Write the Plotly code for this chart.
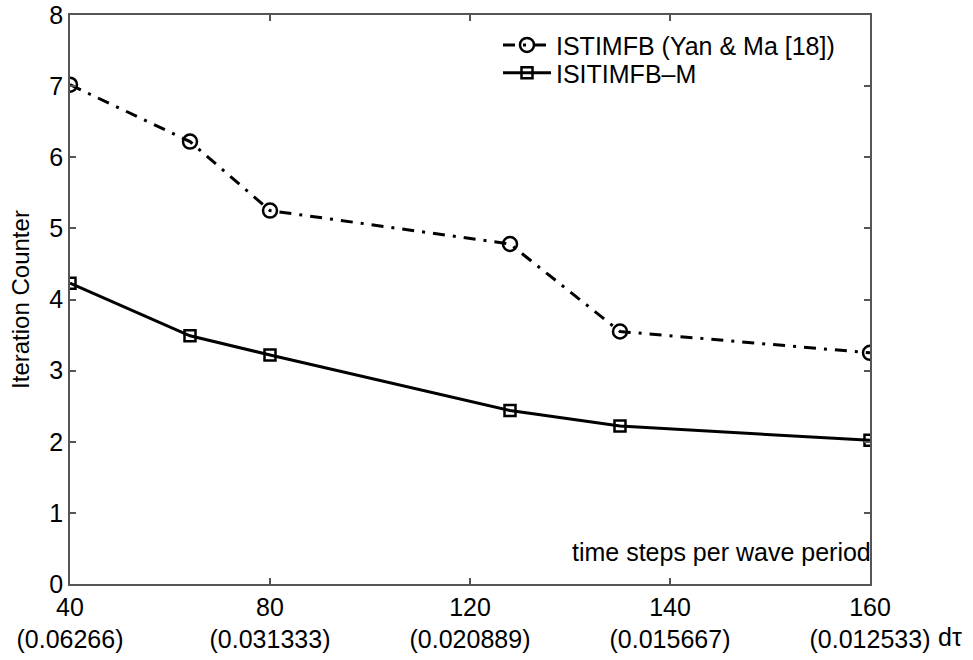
import plotly.graph_objects as go

# x positions are in "time steps per wave period" along a linear axis
steps_pos = [40, 64, 80, 128, 150, 200]
istimfb = [7.02, 6.22, 5.25, 4.78, 3.55, 3.25]
isitimfb_m = [4.23, 3.49, 3.22, 2.44, 2.22, 2.02]

tick_vals = [40, 80, 120, 160, 200]
tick_steps = ["40", "80", "120", "140", "160"]
tick_dt = ["(0.06266)", "(0.031333)", "(0.020889)", "(0.015667)", "(0.012533)"]
tick_text = [f"{a}<br>{b}" for a, b in zip(tick_steps, tick_dt)]

FONT = "Liberation Sans, Arial, Helvetica, sans-serif"
FS = 25

fig = go.Figure()
fig.add_trace(go.Scatter(
    x=steps_pos, y=istimfb, mode="lines+markers",
    name="ISTIMFB (Yan &amp; Ma [18])",
    line=dict(color="black", width=3, dash="12px,8px,3px,8px"),
    marker=dict(symbol="circle-open", size=14, color="black", line=dict(width=2.5, color="black")),
    legend="legend",
))
fig.add_trace(go.Scatter(
    x=steps_pos, y=isitimfb_m, mode="lines+markers",
    name="ISITIMFB\u2013M",
    line=dict(color="black", width=3),
    marker=dict(symbol="square-open", size=11, color="black", line=dict(width=2.5, color="black")),
    legend="legend2",
))

axis_common = dict(
    showline=True, linecolor="#555", linewidth=1.5, mirror="ticks",
    ticks="inside", ticklen=6, tickwidth=1.5, tickcolor="#555",
    showgrid=False, zeroline=False, automargin=False,
    tickfont=dict(family=FONT, size=FS, color="black"),
)

fig.update_xaxes(range=[40, 200], tickmode="array", tickvals=tick_vals, ticktext=tick_text, **axis_common)
fig.update_yaxes(range=[0, 8], tickmode="array", tickvals=list(range(9)), **axis_common)

fig.add_annotation(text="Iteration Counter", xref="paper", yref="paper", x=-0.062, y=0.5,
                   textangle=-90, showarrow=False, xanchor="center", yanchor="middle",
                   font=dict(family=FONT, size=24, color="black"))
fig.add_annotation(text="time steps per wave period", xref="paper", yref="paper", x=1.004, y=0.057,
                   showarrow=False, xanchor="right", yanchor="middle",
                   font=dict(family=FONT, size=FS, color="black"))
fig.add_annotation(text="d\u03c4", xref="paper", yref="paper", x=1.083, y=-0.093,
                   showarrow=False, xanchor="left", yanchor="middle",
                   font=dict(family=FONT, size=FS, color="black"))

leg_common = dict(xanchor="left", yanchor="middle", bgcolor="rgba(0,0,0,0)", borderwidth=0,
                  font=dict(family=FONT, size=FS, color="black"), itemwidth=48)

fig.update_layout(
    width=973, height=660,
    margin=dict(l=70, r=103, t=15, b=76),
    plot_bgcolor="white", paper_bgcolor="white",
    showlegend=True,
    legend=dict(x=0.535, y=0.947, **leg_common),
    legend2=dict(x=0.535, y=0.898, **leg_common),
)

fig.write_html("out.html")
